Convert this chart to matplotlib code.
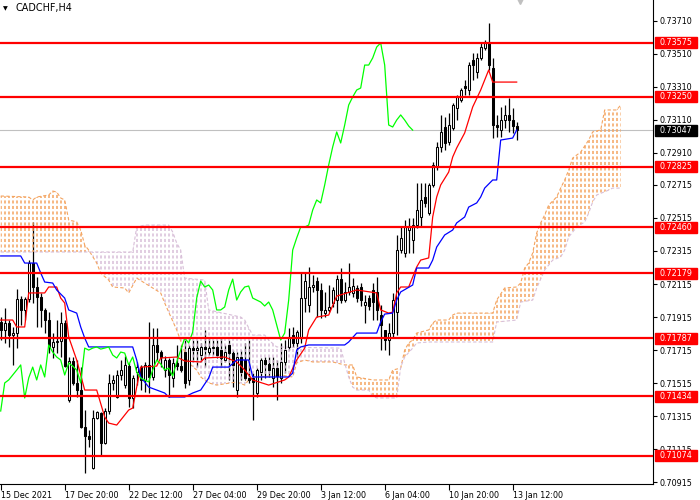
import numpy as np
import matplotlib
matplotlib.use("Agg")
import matplotlib.pyplot as plt
from matplotlib.patches import Polygon, Rectangle

# ---- data ----
symbol = "CADCHF,H4"

opens = [
    0.71885, 0.71837, 0.71879, 0.71806, 0.71818, 0.72024, 0.71958, 0.72024, 0.72242, 0.72097,
    0.72036, 0.71958, 0.71897, 0.71734, 0.71764, 0.71770, 0.71879, 0.71413, 0.71649, 0.71516,
    0.71473, 0.71249, 0.71195, 0.71001, 0.71304, 0.71334, 0.71152, 0.71346, 0.71516, 0.71431,
    0.71564, 0.71503, 0.71618, 0.71425, 0.71582, 0.71612, 0.71534, 0.71625, 0.71552, 0.71746,
    0.71703, 0.71594, 0.71655, 0.71546, 0.71637, 0.71618, 0.71703, 0.71534, 0.71727, 0.71715,
    0.71685, 0.71734, 0.71703, 0.71727, 0.71734, 0.71715, 0.71655, 0.71746, 0.71697, 0.71473,
    0.71673, 0.71655, 0.71546, 0.71546, 0.71455, 0.71582, 0.71655, 0.71631, 0.71546, 0.71606,
    0.71546, 0.71643, 0.71734, 0.71806, 0.71758, 0.71788, 0.72030, 0.71988, 0.72097, 0.72133,
    0.72079, 0.71939, 0.71958, 0.72000, 0.72018, 0.72145, 0.72018, 0.72067, 0.72061, 0.72091,
    0.72097, 0.71988, 0.72030, 0.72079, 0.72067, 0.71927, 0.71837, 0.71776, 0.71818, 0.71945,
    0.72321, 0.72303, 0.72442, 0.72382, 0.72472, 0.72521, 0.72642, 0.72545, 0.72715, 0.72824,
    0.72945, 0.73066, 0.72975, 0.73060, 0.73181, 0.73229, 0.73314, 0.73290, 0.73472, 0.73399,
    0.73484, 0.73544, 0.73575, 0.73423, 0.73078, 0.73048, 0.73108, 0.73139, 0.73108, 0.73072,
]
highs = [
    0.71915, 0.71970, 0.71897, 0.71855, 0.72085, 0.72042, 0.72036, 0.72260, 0.72491, 0.72157,
    0.72061, 0.71970, 0.71945, 0.71818, 0.71897, 0.71945, 0.71897, 0.71673, 0.71673, 0.71655,
    0.71612, 0.71352, 0.71231, 0.71352, 0.71346, 0.71340, 0.71364, 0.71570, 0.71564, 0.71594,
    0.71655, 0.71679, 0.71637, 0.71564, 0.71643, 0.71625, 0.71643, 0.71885, 0.71849, 0.71849,
    0.71715, 0.71679, 0.71667, 0.71667, 0.71746, 0.71746, 0.71776, 0.71746, 0.71776, 0.71776,
    0.71758, 0.71837, 0.71788, 0.71776, 0.71776, 0.71794, 0.71746, 0.71776, 0.71715, 0.71703,
    0.71715, 0.71758, 0.71776, 0.71576, 0.71606, 0.71667, 0.71673, 0.71673, 0.71673, 0.71655,
    0.71758, 0.71776, 0.71849, 0.71855, 0.71837, 0.72182, 0.72182, 0.72218, 0.72170, 0.72157,
    0.72121, 0.72067, 0.72109, 0.72097, 0.72170, 0.72212, 0.72127, 0.72242, 0.72151, 0.72109,
    0.72121, 0.72048, 0.72048, 0.72121, 0.72157, 0.71988, 0.71837, 0.71879, 0.72061, 0.72412,
    0.72460, 0.72503, 0.72515, 0.72515, 0.72727, 0.72727, 0.72727, 0.72727, 0.72854, 0.72975,
    0.73139, 0.73126, 0.73151, 0.73211, 0.73260, 0.73302, 0.73350, 0.73459, 0.73514, 0.73514,
    0.73581, 0.73593, 0.73696, 0.73484, 0.73139, 0.73187, 0.73199, 0.73241, 0.73181, 0.73096,
]
lows = [
    0.71776, 0.71758, 0.71734, 0.71625, 0.71727, 0.71867, 0.71897, 0.72006, 0.72000, 0.71855,
    0.71855, 0.71818, 0.71697, 0.71667, 0.71697, 0.71673, 0.71612, 0.71400, 0.71503, 0.71431,
    0.71243, 0.70970, 0.71128, 0.70995, 0.71297, 0.71079, 0.71146, 0.71328, 0.71473, 0.71425,
    0.71534, 0.71485, 0.71370, 0.71364, 0.71503, 0.71473, 0.71461, 0.71455, 0.71534, 0.71655,
    0.71612, 0.71552, 0.71431, 0.71491, 0.71594, 0.71582, 0.71485, 0.71503, 0.71643, 0.71612,
    0.71643, 0.71612, 0.71685, 0.71685, 0.71667, 0.71612, 0.71643, 0.71534, 0.71491, 0.71431,
    0.71534, 0.71534, 0.71516, 0.71291, 0.71431, 0.71534, 0.71546, 0.71552, 0.71491, 0.71413,
    0.71516, 0.71576, 0.71715, 0.71734, 0.71673, 0.71758, 0.71945, 0.71945, 0.72067, 0.71915,
    0.71909, 0.71915, 0.71945, 0.71976, 0.71939, 0.72000, 0.72006, 0.72048, 0.72036, 0.72006,
    0.71982, 0.71879, 0.71958, 0.71897, 0.71897, 0.71715, 0.71715, 0.71685, 0.71794, 0.71806,
    0.72303, 0.72279, 0.72303, 0.72303, 0.72454, 0.72460, 0.72581, 0.72533, 0.72702, 0.72805,
    0.72914, 0.72927, 0.72957, 0.73048, 0.73108, 0.73217, 0.73260, 0.73260, 0.73350, 0.73363,
    0.73472, 0.73532, 0.73411, 0.72999, 0.73005, 0.73005, 0.73060, 0.73036, 0.73030, 0.72987,
]
closes = [
    0.71837, 0.71879, 0.71806, 0.71818, 0.72024, 0.71958, 0.72024, 0.72242, 0.72097, 0.72036,
    0.71958, 0.71897, 0.71734, 0.71764, 0.71770, 0.71879, 0.71618, 0.71649, 0.71516, 0.71473,
    0.71249, 0.71195, 0.71176, 0.71304, 0.71340, 0.71152, 0.71346, 0.71516, 0.71534, 0.71564,
    0.71594, 0.71625, 0.71425, 0.71546, 0.71612, 0.71534, 0.71625, 0.71552, 0.71746, 0.71703,
    0.71673, 0.71655, 0.71564, 0.71637, 0.71618, 0.71594, 0.71516, 0.71727, 0.71715, 0.71727,
    0.71734, 0.71721, 0.71727, 0.71734, 0.71685, 0.71667, 0.71703, 0.71697, 0.71625, 0.71673,
    0.71582, 0.71546, 0.71534, 0.71522, 0.71594, 0.71655, 0.71631, 0.71594, 0.71606, 0.71558,
    0.71643, 0.71715, 0.71788, 0.71758, 0.71824, 0.72030, 0.72133, 0.72097, 0.72109, 0.72079,
    0.71958, 0.71958, 0.71976, 0.72079, 0.72145, 0.72018, 0.72067, 0.72097, 0.72103, 0.72030,
    0.72018, 0.72006, 0.71982, 0.72006, 0.71958, 0.71867, 0.71776, 0.71818, 0.72018, 0.72321,
    0.72394, 0.72460, 0.72460, 0.72472, 0.72563, 0.72624, 0.72606, 0.72715, 0.72836, 0.72945,
    0.73036, 0.72969, 0.73078, 0.73199, 0.73248, 0.73290, 0.73302, 0.73441, 0.73441, 0.73484,
    0.73550, 0.73575, 0.73441, 0.73078, 0.73066, 0.73108, 0.73139, 0.73108, 0.73072, 0.73047,
]

# Ichimoku lines, vertices (bar index, price)
tenkan_bars = [0, 3, 4, 6, 7, 11, 12, 14, 15, 16, 17, 19, 21, 24, 26, 27, 29, 30, 32, 33,
               34, 35, 39, 40, 44, 46, 50, 51, 56, 59, 61, 63, 67, 71, 72, 74, 76, 77, 79, 82,
               84, 89, 94, 95, 97, 98, 99, 100, 102, 104, 105, 107, 108, 109, 110, 112, 113, 114, 116, 118,
               120, 122, 123, 129]
tenkan_vals = [0.71897, 0.71897, 0.71855, 0.71855, 0.72061, 0.72061, 0.72097, 0.72097, 0.72030, 0.72000,
               0.71794, 0.71655, 0.71473, 0.71473, 0.71310, 0.71273, 0.71261, 0.71291, 0.71352, 0.71364,
               0.71491, 0.71612, 0.71618, 0.71667, 0.71673, 0.71649, 0.71643, 0.71667, 0.71673, 0.71643,
               0.71594, 0.71534, 0.71503, 0.71534, 0.71552, 0.71655, 0.71727, 0.71837, 0.71915, 0.71927,
               0.72042, 0.72079, 0.72061, 0.71958, 0.71939, 0.71945, 0.72061, 0.72097, 0.72097, 0.72218,
               0.72260, 0.72273, 0.72521, 0.72642, 0.72715, 0.72793, 0.72884, 0.72939, 0.73030, 0.73187,
               0.73290, 0.73411, 0.73338, 0.73338]

kijun_bars = [0, 5, 6, 9, 10, 11, 13, 14, 16, 17, 19, 20, 21, 22, 33, 34, 35, 37, 41, 42,
              46, 48, 50, 52, 53, 57, 59, 62, 63, 72, 73, 74, 75, 77, 86, 87, 89, 94, 95, 96,
              98, 99, 100, 103, 104, 107, 108, 109, 111, 113, 114, 116, 117, 119, 120, 121, 123, 124, 125, 128,
              129]
kijun_vals = [0.72285, 0.72285, 0.72242, 0.72242, 0.72182, 0.72127, 0.72121, 0.72079, 0.72030, 0.71958,
              0.71939, 0.71855, 0.71788, 0.71734, 0.71734, 0.71655, 0.71552, 0.71491, 0.71455, 0.71431,
              0.71431, 0.71455, 0.71473, 0.71546, 0.71612, 0.71612, 0.71655, 0.71655, 0.71552, 0.71552,
              0.71576, 0.71715, 0.71734, 0.71746, 0.71746, 0.71764, 0.71818, 0.71818, 0.71885, 0.71933,
              0.71939, 0.72018, 0.72067, 0.72109, 0.72212, 0.72212, 0.72260, 0.72339, 0.72412, 0.72442,
              0.72485, 0.72521, 0.72581, 0.72606, 0.72642, 0.72696, 0.72745, 0.72745, 0.72987, 0.72999,
              0.73048]

span_a_bars = [0, 7, 8, 9, 12, 13, 14, 15, 16, 17, 19, 20, 21, 22, 24, 25, 27, 28, 31, 32,
               34, 36, 40, 41, 42, 44, 46, 47, 49, 50, 52, 54, 59, 61, 62, 65, 70, 73, 74, 76,
               78, 83, 86, 88, 89, 93, 97, 98, 100, 101, 102, 103, 104, 107, 108, 109, 112, 113, 114, 123,
               124, 126, 129, 130, 131, 132, 133, 134, 135, 136, 137, 139, 140, 141, 142, 143, 144, 145, 147, 148,
               150, 151, 154, 155]
span_a = [0.72648, 0.72642, 0.72624, 0.72642, 0.72654, 0.72678, 0.72672, 0.72636, 0.72624, 0.72503,
          0.72491, 0.72442, 0.72351, 0.72321, 0.72242, 0.72182, 0.72139, 0.72097, 0.72091, 0.72061,
          0.72151, 0.72121, 0.72061, 0.72000, 0.71945, 0.71837, 0.71703, 0.71637, 0.71594, 0.71552,
          0.71516, 0.71503, 0.71522, 0.71503, 0.71534, 0.71552, 0.71564, 0.71552, 0.71637, 0.71655,
          0.71643, 0.71643, 0.71625, 0.71625, 0.71552, 0.71534, 0.71534, 0.71594, 0.71606, 0.71715,
          0.71758, 0.71776, 0.71818, 0.71837, 0.71879, 0.71897, 0.71897, 0.71927, 0.71939, 0.71939,
          0.72018, 0.72091, 0.72097, 0.72121, 0.72212, 0.72242, 0.72303, 0.72424, 0.72485, 0.72533,
          0.72593, 0.72642, 0.72696, 0.72745, 0.72805, 0.72878, 0.72896, 0.72914, 0.72987, 0.73036,
          0.73048, 0.73169, 0.73169, 0.73199]

span_b_bars = [0, 22, 33, 34, 36, 42, 43, 44, 45, 46, 51, 52, 60, 61, 62, 63, 66, 67, 69, 85,
               86, 87, 88, 89, 92, 93, 94, 99, 100, 101, 103, 104, 107, 123, 124, 129, 130, 133, 134, 136,
               138, 140, 141, 142, 144, 146, 147, 148, 149, 152, 153, 155]
span_b = [0.72309, 0.72309, 0.72309, 0.72460, 0.72472, 0.72472, 0.72430, 0.72363, 0.72321, 0.72151,
          0.72139, 0.71958, 0.71915, 0.71897, 0.71849, 0.71806, 0.71806, 0.71776, 0.71734, 0.71727,
          0.71637, 0.71552, 0.71491, 0.71473, 0.71473, 0.71437, 0.71425, 0.71425, 0.71612, 0.71673,
          0.71727, 0.71758, 0.71764, 0.71764, 0.71885, 0.71897, 0.72006, 0.72018, 0.72091, 0.72200,
          0.72260, 0.72279, 0.72321, 0.72400, 0.72460, 0.72491, 0.72545, 0.72612, 0.72654, 0.72684,
          0.72696, 0.72696]
# cloud colour changes where the spans cross
cloud_regions = [(0, 22, "#F4A460"), (22, 86, "#D8BFD8"), (86, 155, "#F4A460")]
chikou_shift = 26

levels = [0.73575, 0.73250, 0.72825, 0.72460, 0.72179, 0.71787, 0.71434, 0.71074]
last_price = 0.73047
price_ticks = [0.73710, 0.73510, 0.73310, 0.73110, 0.72910, 0.72715, 0.72515, 0.72315,
               0.72115, 0.71915, 0.71715, 0.71515, 0.71315, 0.71115, 0.70915]
time_labels = ["15 Dec 2021", "17 Dec 20:00", "22 Dec 12:00", "27 Dec 04:00", "29 Dec 20:00",
               "3 Jan 12:00", "6 Jan 04:00", "10 Jan 20:00", "13 Jan 12:00"]
label_bars = [0, 16, 32, 48, 64, 80, 96, 112, 128]

Y_LO, Y_HI = 0.70904, 0.73835

fig = plt.figure(figsize=(7, 5), dpi=100)
ax = fig.add_axes([0, 16 / 500, 653 / 700, 484 / 500])
ax.set_xlim(-0.175, 163.08)
ax.set_ylim(Y_LO, Y_HI)

o, h, l, c = map(np.array, (opens, highs, lows, closes))
x = np.arange(len(c))

# current price line
ax.axhline(last_price, color="#C0C0C0", lw=0.8, zorder=1)

# wicks first, the cloud dots then run over them like in MT4
ax.vlines(x, l, h, color="black", lw=0.9, zorder=2)

# Ichimoku cloud: one dotted vertical per bar, clipped to the span polygon
for lo, hi, col in cloud_regions:
    a_pts = [(b, v) for b, v in zip(span_a_bars, span_a) if lo <= b <= hi]
    b_pts = [(b, v) for b, v in zip(span_b_bars, span_b) if lo <= b <= hi]
    poly = Polygon(a_pts + b_pts[::-1], closed=True, transform=ax.transData)
    for bar in range(lo, hi + 1):
        ln, = ax.plot([bar, bar], [Y_LO, Y_HI], color=col, lw=1.1,
                      linestyle=(0, (2.0, 1.6)), dash_capstyle="butt", zorder=3)
        ln.set_clip_path(poly)
ax.plot(span_a_bars, span_a, color="#F4A460", lw=0.8, ls=(0, (3, 2)), zorder=3)
ax.plot(span_b_bars, span_b, color="#D8BFD8", lw=0.8, ls=(0, (3, 2)), zorder=3)

# candle bodies
body_col = np.where(c >= o, "white", "black")
ax.bar(x, c - o, bottom=o, width=0.5, color=body_col, edgecolor="black", lw=0.75, zorder=4)

# tenkan / kijun / chikou
ax.plot(tenkan_bars, tenkan_vals, color="#FF0000", lw=0.9, zorder=5)
ax.plot(kijun_bars, kijun_vals, color="#0000FF", lw=0.9, zorder=5)
ax.plot(x[:len(c) - chikou_shift], c[chikou_shift:], color="#00FF00", lw=0.9, zorder=5)

# horizontal levels
for lev in levels:
    ax.axhline(lev, color="#FF0000", lw=1.6, zorder=6)

# right-side price tags
ytr = ax.get_yaxis_transform()
box_h = 0.00066
for lev, fc in [(v, "#FF0000") for v in levels] + [(last_price, "black")]:
    ax.add_patch(Rectangle((1.003, lev - box_h / 2), 0.064, box_h, transform=ytr,
                           facecolor=fc, edgecolor=fc, clip_on=False, zorder=10))
    ax.text(1.035, lev, f"{lev:.5f}", transform=ytr, ha="center", va="center",
            color="white", fontsize=5.8, clip_on=False, zorder=11)

# axes styling
ax.yaxis.tick_right()
ax.set_yticks(price_ticks)
ax.set_yticklabels([f"{v:.5f}" for v in price_ticks])
ax.tick_params(axis="y", length=3, width=0.8, labelsize=5.8, pad=2)
ax.set_xticks(label_bars)
ax.set_xticklabels(time_labels)
for t in ax.get_xticklabels():
    t.set_horizontalalignment("left")
ax.tick_params(axis="x", length=4, width=0.8, labelsize=5.8, pad=1)
for side in ("top", "left"):
    ax.spines[side].set_visible(False)
for side in ("right", "bottom"):
    ax.spines[side].set_linewidth(0.8)

# header and chart-shift marker
fig.text(3 / 700, 1 - 8.5 / 500, "\u25bc", fontsize=4.5, va="center")
fig.text(15 / 700, 1 - 8 / 500, symbol, fontsize=6.9, va="center")
ax.plot([129.8], [Y_HI], marker="v", ms=6, color="#C0C0C0", clip_on=False, zorder=7)

fig.savefig("out.png", dpi=100)
